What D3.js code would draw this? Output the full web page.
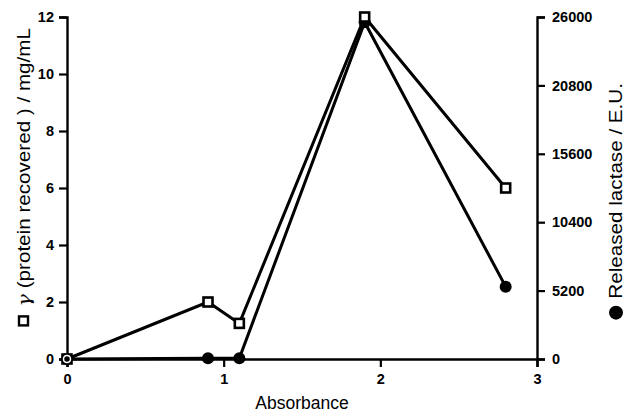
<!DOCTYPE html>
<html><head><meta charset="utf-8">
<script src="https://cdn.jsdelivr.net/npm/d3@7"></script>
<style>body{margin:0;background:#fff}svg{display:block}</style>
</head><body>
<svg id="c" width="632" height="414"></svg>
<script>
const absorbance = [0, 0.9, 1.1, 1.9, 2.8];
const protein = [0, 2, 1.25, 12, 6];
const lactase = [0, 50, 50, 25600, 5500];
const xTicks = [0, 1, 2, 3];
const leftTicks = [0, 2, 4, 6, 8, 10, 12];
const rightTicks = [0, 5200, 10400, 15600, 20800, 26000];

const svg = d3.select("#c");
const m = {l: 67, r: 537, t: 17, b: 359};
const x = d3.scaleLinear().domain([0, 3]).range([m.l, m.r]);
const yL = d3.scaleLinear().domain([0, 12]).range([m.b, m.t]);
const yR = d3.scaleLinear().domain([0, 26000]).range([m.b, m.t]);
const font = "Liberation Sans, Arial, sans-serif";

function styleAxis(g){
  g.selectAll("path.domain").attr("stroke","#000").attr("stroke-width",2.4);
  g.selectAll(".tick line").attr("stroke","#000").attr("stroke-width",2.2);
  g.selectAll(".tick text").attr("font-family",font).attr("font-weight","bold").attr("font-size",14.5).attr("fill","#000");
}
svg.append("g").attr("transform",`translate(0,${m.b})`)
  .call(d3.axisBottom(x).tickValues(xTicks).tickFormat(d3.format("d")).tickSizeOuter(0).tickSize(8).tickPadding(7))
  .call(styleAxis);
svg.append("g").attr("transform",`translate(${m.l},0)`)
  .call(d3.axisLeft(yL).tickValues(leftTicks).tickFormat(d3.format("d")).tickSizeOuter(0).tickSize(8).tickPadding(5))
  .call(styleAxis);
svg.append("g").attr("transform",`translate(${m.r},0)`)
  .call(d3.axisRight(yR).tickValues(rightTicks).tickFormat(d3.format("d")).tickSizeOuter(0).tickSize(8).tickPadding(7))
  .call(styleAxis);

const pts1 = absorbance.map((a,i)=>[a, protein[i]]);
const pts2 = absorbance.map((a,i)=>[a, lactase[i]]);
svg.append("path").datum(pts2).attr("fill","none").attr("stroke","#000").attr("stroke-width",3)
  .attr("d", d3.line().x(d=>x(d[0])).y(d=>yR(d[1])));
svg.append("path").datum(pts1).attr("fill","none").attr("stroke","#000").attr("stroke-width",3)
  .attr("d", d3.line().x(d=>x(d[0])).y(d=>yL(d[1])));

svg.selectAll("circle.l").data(pts2).join("circle").attr("class","l")
  .attr("cx",d=>x(d[0])).attr("cy",d=>yR(d[1])).attr("r",6).attr("fill","#000");
svg.selectAll("rect.p").data(pts1).join("rect").attr("class","p")
  .attr("x",d=>x(d[0])-4.5).attr("y",d=>yL(d[1])-4.5).attr("width",9).attr("height",9)
  .attr("fill","#fff").attr("stroke","#000").attr("stroke-width",2.6);
svg.append("circle").attr("cx",x(absorbance[0])).attr("cy",yR(lactase[0])).attr("r",3.5)
  .attr("fill","#000").attr("stroke","#fff").attr("stroke-width",1.5);

svg.append("text").attr("x",(m.l+m.r)/2).attr("y",409).attr("text-anchor","middle")
  .attr("font-family",font).attr("font-size",17.5).text("Absorbance");

const SX = 1.18;
const lt = svg.append("text").attr("transform",`translate(30,28) rotate(-90) scale(${SX},1)`).attr("text-anchor","end")
  .attr("font-family",font).attr("font-size",17.5);
lt.append("tspan").attr("font-style","italic").attr("font-family","DejaVu Serif, serif").text("\u03B3");
lt.append("tspan").text(" (protein recovered ) / mg/mL");
const L1 = lt.node().getComputedTextLength() * SX;
svg.append("rect").attr("x",24-5).attr("y",28+L1+10).attr("width",9).attr("height",9)
  .attr("fill","#fff").attr("stroke","#000").attr("stroke-width",2.4);

const rt = svg.append("text").attr("transform",`translate(622,83) rotate(-90) scale(${SX},1)`).attr("text-anchor","end")
  .attr("font-family",font).attr("font-size",17.5).text("Released lactase / E.U.");
const L2 = rt.node().getComputedTextLength() * SX;
svg.append("circle").attr("cx",616).attr("cy",83+L2+14).attr("r",7).attr("fill","#000");
</script>
</body></html>
